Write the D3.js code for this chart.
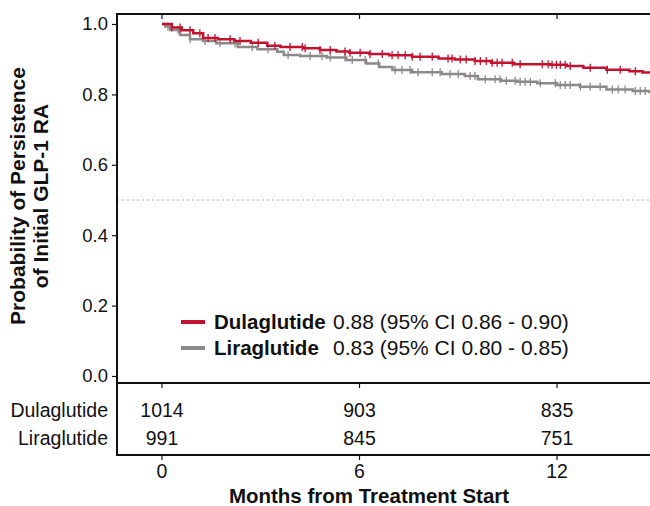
<!DOCTYPE html>
<html>
<head>
<meta charset="utf-8">
<script src="https://cdn.jsdelivr.net/npm/d3@7"></script>
<style>
  body { margin: 0; background: #fff; }
  svg { display: block; font-family: "Liberation Sans", Arial, sans-serif; }
</style>
</head>
<body>
<div id="chart"></div>
<script>
// step points [month, survival]
const dulaSteps = [
  [0, 1.0], [0.3, 0.99], [0.6, 0.982], [0.95, 0.974], [1.25, 0.96], [1.7, 0.957],
  [2.2, 0.952], [2.7, 0.947], [3.2, 0.938], [3.6, 0.935], [4.3, 0.931], [4.8, 0.926],
  [5.3, 0.922], [5.7, 0.918], [6.3, 0.915], [6.9, 0.911], [7.6, 0.907], [8.4, 0.902],
  [8.9, 0.899], [9.5, 0.895], [10.0, 0.89], [10.7, 0.886], [11.8, 0.884], [12.3, 0.881],
  [12.8, 0.876], [13.5, 0.87], [14.2, 0.866], [14.6, 0.862], [15.2, 0.862]
];
const liraSteps = [
  [0, 1.0], [0.1, 0.993], [0.25, 0.983], [0.55, 0.969], [0.85, 0.957], [1.25, 0.952],
  [1.65, 0.945], [2.3, 0.935], [2.9, 0.928], [3.5, 0.921], [3.7, 0.912], [4.2, 0.909],
  [5.0, 0.905], [5.6, 0.898], [6.2, 0.888], [6.6, 0.878], [7.0, 0.869], [7.6, 0.863],
  [8.5, 0.858], [9.2, 0.852], [9.6, 0.843], [10.3, 0.839], [10.8, 0.836], [11.4, 0.832],
  [12.0, 0.827], [12.7, 0.822], [13.5, 0.814], [14.3, 0.81], [14.8, 0.807], [15.2, 0.807]
];
// censoring times (months)
const dulaCensor = [0.30, 0.55, 0.85, 1.15, 1.40, 1.61, 2.07, 2.37, 2.92, 3.43, 3.89, 4.26, 4.35,
  4.80, 5.11, 5.56, 5.71, 6.02, 6.32, 6.69, 6.99, 7.17, 7.39, 7.60, 7.84, 8.21, 8.69, 8.81,
  9.06, 9.24, 9.51, 9.67, 9.85, 10.03, 10.18, 10.33, 10.64, 10.88, 11.55, 11.73, 11.85, 11.98,
  12.10, 12.25, 12.40, 13.01, 13.53, 13.92, 14.38];
const liraCensor = [0.18, 0.49, 0.85, 1.31, 1.76, 2.22, 2.74, 3.22, 3.83, 4.50, 4.86, 5.11, 5.56,
  5.78, 6.17, 6.57, 7.08, 7.29, 7.54, 7.78, 8.21, 8.45, 8.75, 9.00, 9.36, 9.51, 9.82, 10.12,
  10.27, 10.46, 10.73, 10.88, 11.03, 11.19, 11.49, 11.95, 12.10, 12.25, 12.40, 12.71, 13.01,
  13.31, 13.68, 13.86, 14.07, 14.38, 14.53, 14.68];

const groups = ["Dulaglutide", "Liraglutide"];
const legendValues = ["0.88 (95% CI 0.86 - 0.90)", "0.83 (95% CI 0.80 - 0.85)"];
const atRisk = { "Dulaglutide": [1014, 903, 835], "Liraglutide": [991, 845, 751] };
const xTicks = [0, 6, 12];
const yTicks = [0, 0.2, 0.4, 0.6, 0.8, 1.0];

const W = 650, H = 506;
const colors = { "Dulaglutide": "#c3122f", "Liraglutide": "#8c8a88" };

const svg = d3.select("#chart").append("svg")
  .attr("width", W).attr("height", H);

const x = d3.scaleLinear().domain([0, 12]).range([162, 557]);
const y = d3.scaleLinear().domain([0, 1]).range([376, 24]);

const frameLeft = 117, frameTop = 14, plotBottom = 383, tableBottom = 455;

// dotted median line
svg.append("line")
  .attr("x1", frameLeft).attr("x2", W).attr("y1", y(0.5)).attr("y2", y(0.5))
  .attr("stroke", "#aaa").attr("stroke-width", 1).attr("stroke-dasharray", "2,3");

// frame
const frame = svg.append("g").attr("stroke", "#111").attr("stroke-width", 2).attr("fill", "none");
frame.append("path").attr("d", `M${W},${frameTop}H${frameLeft}V${tableBottom}H${W}`);
frame.append("line").attr("x1", frameLeft).attr("x2", W).attr("y1", plotBottom).attr("y2", plotBottom);

// y axis
const yAxis = svg.append("g")
  .attr("transform", `translate(${frameLeft},0)`)
  .call(d3.axisLeft(y).tickValues(yTicks).tickFormat(d3.format(".1f")).tickSize(5).tickPadding(4));
yAxis.select(".domain").remove();
yAxis.selectAll(".tick line").attr("stroke", "#111").attr("stroke-width", 1.2);
yAxis.selectAll("text").attr("font-size", 18.5).attr("fill", "#111").attr("font-family", "Liberation Sans, Arial, sans-serif");

// x ticks at top, bottom of plot and bottom of table
[frameTop, plotBottom, tableBottom].forEach(function (yy) {
  svg.append("g").selectAll("line").data(xTicks).join("line")
    .attr("x1", d => x(d)).attr("x2", d => x(d))
    .attr("y1", yy).attr("y2", yy + 5)
    .attr("stroke", "#111").attr("stroke-width", 1.2);
});
svg.append("g").selectAll("text").data(xTicks).join("text")
  .attr("x", d => x(d)).attr("y", 478)
  .attr("text-anchor", "middle").attr("font-size", 19.5).attr("fill", "#111")
  .text(d => d);

// curves
function stepAt(steps, t) {
  let s = steps[0][1];
  for (const p of steps) { if (p[0] <= t) s = p[1]; }
  return s;
}
const line = d3.line().x(d => x(d[0])).y(d => y(d[1])).curve(d3.curveStepAfter);
const curves = svg.append("g");
[["Liraglutide", liraSteps, liraCensor], ["Dulaglutide", dulaSteps, dulaCensor]].forEach(function (g) {
  curves.append("path").datum(g[1])
    .attr("d", line).attr("fill", "none")
    .attr("stroke", colors[g[0]]).attr("stroke-width", 2.5);
  curves.append("g").selectAll("line").data(g[2]).join("line")
    .attr("x1", d => x(d)).attr("x2", d => x(d))
    .attr("y1", d => y(stepAt(g[1], d)) - 4).attr("y2", d => y(stepAt(g[1], d)) + 4)
    .attr("stroke", colors[g[0]]).attr("stroke-width", 1.3);
});

// legend
const legend = svg.append("g");
groups.forEach(function (k, i) {
  const ly = 322 + i * 26;
  legend.append("line").attr("x1", 181).attr("x2", 205).attr("y1", ly).attr("y2", ly)
    .attr("stroke", colors[k]).attr("stroke-width", 4);
  legend.append("text").attr("x", 214).attr("y", ly + 7)
    .attr("font-size", 20.5).attr("font-weight", "bold").attr("fill", "#111").text(k);
  legend.append("text").attr("x", 333).attr("y", ly + 7)
    .attr("font-size", 21).attr("fill", "#111").text(legendValues[i]);
});

// number at risk table
groups.forEach(function (k, i) {
  const ry = 417 + i * 28;
  svg.append("text").attr("x", 108).attr("y", ry).attr("text-anchor", "end")
    .attr("font-size", 19.5).attr("fill", "#111").text(k);
  svg.append("g").selectAll("text").data(atRisk[k]).join("text")
    .attr("x", (d, j) => x(xTicks[j])).attr("y", ry)
    .attr("text-anchor", "middle").attr("font-size", 19.5).attr("fill", "#111")
    .text(d => d);
});

// axis titles
svg.append("text").attr("x", 369).attr("y", 503).attr("text-anchor", "middle")
  .attr("font-size", 20.5).attr("font-weight", "bold").attr("fill", "#111")
  .text("Months from Treatment Start");
const yt = svg.append("text")
  .attr("transform", "translate(25,196) rotate(-90)")
  .attr("text-anchor", "middle").attr("font-size", 21).attr("font-weight", "bold").attr("fill", "#111");
yt.append("tspan").attr("x", 0).attr("y", 0).text("Probability of Persistence");
yt.append("tspan").attr("x", 0).attr("y", 23).text("of Initial GLP-1 RA");
</script>
</body>
</html>
